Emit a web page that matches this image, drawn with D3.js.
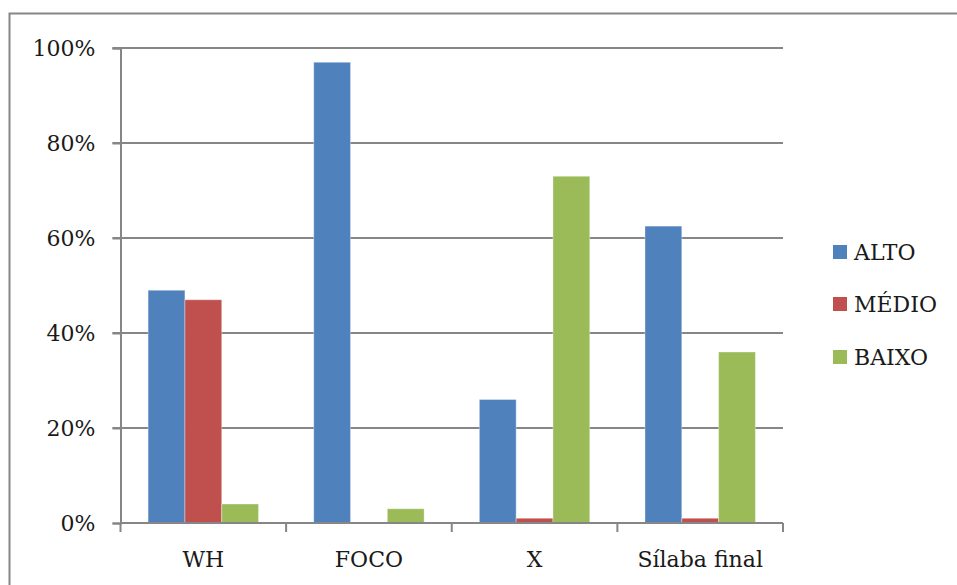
<!DOCTYPE html>
<html><head><meta charset="utf-8">
<script src="https://cdn.jsdelivr.net/npm/d3@7"></script>
<style>html,body{margin:0;padding:0;background:#fff;overflow:hidden}</style>
</head><body>
<svg id="c" width="957" height="585"></svg>
<script>
const categories = ["WH", "FOCO", "X", "Sílaba final"];
const seriesNames = ["ALTO", "MÉDIO", "BAIXO"];
const alto  = [0.49, 0.97, 0.26, 0.625];
const medio = [0.47, 0.00, 0.01, 0.01];
const baixo = [0.04, 0.03, 0.73, 0.36];
const yTicks = [0, 0.2, 0.4, 0.6, 0.8, 1.0];
const colors = ["#4F81BD", "#C0504D", "#9BBB59"];

const series = [alto, medio, baixo];
const svg = d3.select("#c");
const font = "'DejaVu Serif', serif";
const fs = 22;
const txtCol = "#1a1a1a";

// outer chart border
svg.append("rect").attr("x", 9.5).attr("y", 13.5).attr("width", 1000).attr("height", 700)
  .attr("fill", "none").attr("stroke", "#868686").attr("stroke-width", 2);

const L = 120.5, R = 783, T = 48, B = 523;
const x = d3.scaleBand().domain(categories).range([L, R]).paddingInner(0).paddingOuter(0);
const bw = x.bandwidth() / 4.5;
const xs = d3.scaleBand().domain(seriesNames).range([0.75 * bw, 3.75 * bw]);
const y = d3.scaleLinear().domain([0, 1]).range([B, T]);

// gridlines
svg.append("g").selectAll("line").data(yTicks.filter(d => d > 0)).join("line")
  .attr("x1", L - 8).attr("x2", R).attr("y1", d => y(d)).attr("y2", d => y(d))
  .attr("stroke", "#868686").attr("stroke-width", 2);

// bars
const g = svg.append("g");
series.forEach((vals, si) => {
  g.selectAll(null).data(vals).join("rect")
    .attr("x", (d, i) => x(categories[i]) + xs(seriesNames[si]))
    .attr("width", xs.bandwidth())
    .attr("y", d => y(d))
    .attr("height", d => B - y(d))
    .attr("fill", colors[si])
    .attr("stroke", "rgba(255,255,255,0.35)").attr("stroke-width", 1);
});

// y axis
const yAxis = d3.axisLeft(y).tickValues(yTicks).tickFormat(d3.format(".0%")).tickSize(8).tickPadding(17);
const ya = svg.append("g").attr("transform", `translate(${L},0)`).call(yAxis);
ya.select(".domain").attr("stroke", "#868686").attr("stroke-width", 2);
ya.selectAll(".tick line").attr("stroke", "#868686").attr("stroke-width", 2);
ya.selectAll(".tick text").attr("font-family", font).attr("font-size", fs).attr("fill", txtCol);

// x axis
const xAxis = d3.axisBottom(x).tickSize(0).tickPadding(28);
const xa = svg.append("g").attr("transform", `translate(0,${B})`).call(xAxis);
xa.select(".domain").attr("stroke", "#868686").attr("stroke-width", 2).attr("d", `M${L},0H${R}`);
xa.selectAll(".tick text").attr("font-family", font).attr("font-size", fs).attr("fill", txtCol);
// category separators
svg.append("g").selectAll("line").data(categories.concat(["_end"])).join("line")
  .attr("x1", (d, i) => i < categories.length ? x(d) : R)
  .attr("x2", (d, i) => i < categories.length ? x(d) : R)
  .attr("y1", B).attr("y2", B + 9)
  .attr("stroke", "#868686").attr("stroke-width", 2);

// legend
const leg = svg.append("g");
const legY = [252, 304, 357];
seriesNames.forEach((s, i) => {
  leg.append("rect").attr("x", 833).attr("y", legY[i] - 7).attr("width", 14).attr("height", 14).attr("fill", colors[i]);
  leg.append("text").attr("x", 854).attr("y", legY[i]).attr("dy", "0.35em")
    .attr("font-family", font).attr("font-size", fs).attr("fill", txtCol).text(s);
});
</script>
</body></html>
